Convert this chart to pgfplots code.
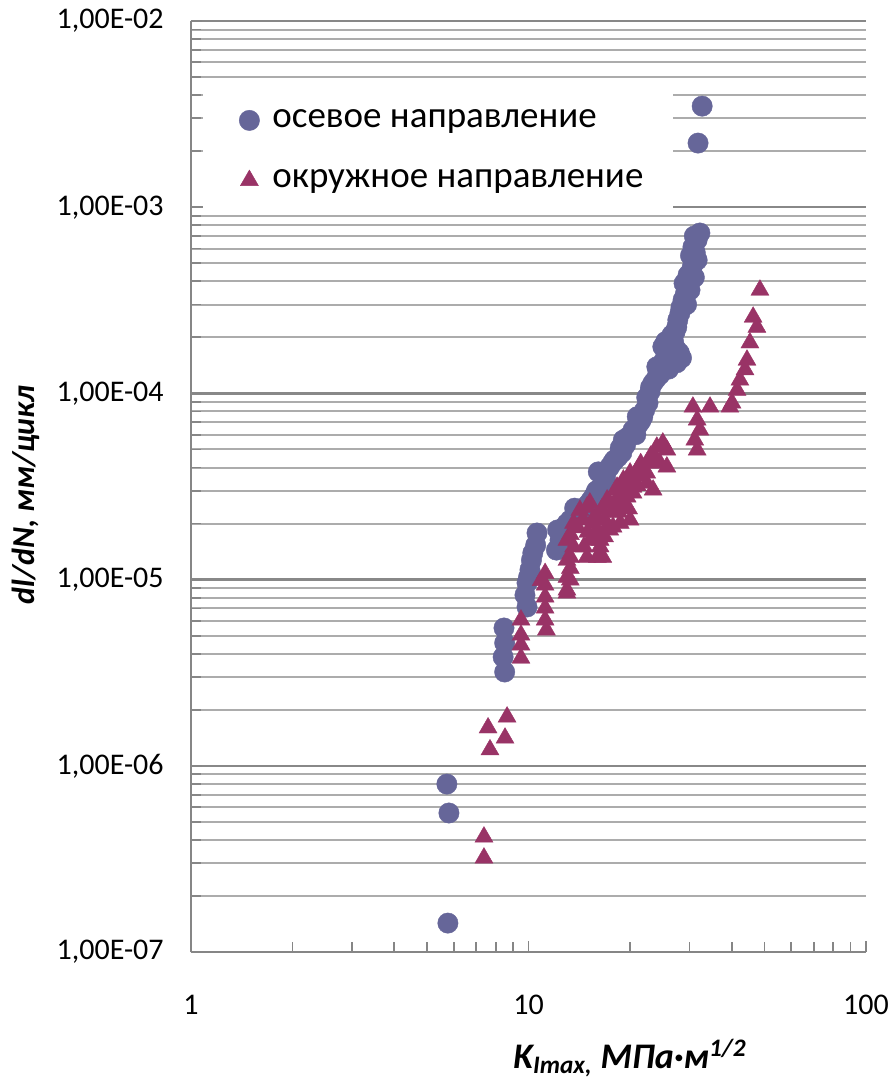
\documentclass[border=0pt]{standalone}
\usepackage{fontspec}
\setmainfont{Carlito}
\usepackage{pgfplots}
\pgfplotsset{compat=1.18}

\definecolor{axisgray}{RGB}{134,134,134}
\definecolor{majgrid}{RGB}{136,136,136}
\definecolor{mingrid}{RGB}{172,172,172}
\definecolor{axial}{RGB}{102,102,153}
\definecolor{hoop}{RGB}{153,51,102}

% legend entries are padded to a fixed width so the white box ends in the same place
\newcommand{\legentry}[1]{\makebox[200.5pt][l]{#1}}

\begin{document}
\begin{tikzpicture}
\begin{axis}[
  scale only axis, width=337.5pt, height=465.5pt,
  xmode=log, ymode=log,
  xmin=1, xmax=100, ymin=1e-7, ymax=1e-2,
  axis x line*=bottom, axis y line*=left,
  axis line style={draw=axisgray, line width=1pt},
  xtick={1,10,100}, xticklabels={1,10,100},
  minor xtick={2,3,4,5,6,7,8,9,20,30,40,50,60,70,80,90},
  ytick={1e-7,1e-6,1e-5,1e-4,1e-3,1e-2},
  yticklabels={{1,00E-07},{1,00E-06},{1,00E-05},{1,00E-04},{1,00E-03},{1,00E-02}},
  minor ytick={2e-7,3e-7,4e-7,5e-7,6e-7,7e-7,8e-7,9e-7,
               2e-6,3e-6,4e-6,5e-6,6e-6,7e-6,8e-6,9e-6,
               2e-5,3e-5,4e-5,5e-5,6e-5,7e-5,8e-5,9e-5,
               2e-4,3e-4,4e-4,5e-4,6e-4,7e-4,8e-4,9e-4,
               2e-3,3e-3,4e-3,5e-3,6e-3,7e-3,8e-3,9e-3},
  ymajorgrids, yminorgrids,
  major grid style={draw=majgrid, line width=1.2pt},
  minor grid style={draw=mingrid, line width=1pt},
  tick align=inside,
  major tick length=5.5pt, minor tick length=5pt,
  tick style={draw=axisgray, line width=0.9pt},
  ticklabel style={font=\fontsize{15}{18}\selectfont},
  xticklabel style={anchor=north, inner sep=0pt, yshift=-21.5pt},
  yticklabel style={anchor=east, inner sep=0pt, xshift=-13.5pt},
  xlabel={\bfseries\itshape K\textsubscript{Imax,} МПа·м\textsuperscript{1/2}},
  xlabel style={at={(axis description cs:0.65037,-0.11386)}, anchor=center,
                font=\fontsize{18}{22}\selectfont},
  ylabel={\bfseries\itshape dl/dN, мм/цикл},
  ylabel style={at={(axis description cs:-0.24444,0.4909)}, anchor=center,
                font=\fontsize{16}{19}\selectfont},
  legend style={at={(rel axis cs:0.017778,0.92589)}, anchor=north west,
                draw=none, fill=white, inner sep=0pt, column sep=0pt, row sep=0pt,
                font=\fontsize{18.5}{22}\selectfont,
                nodes={inner sep=0pt}},
  legend cell align=left,
  legend image code/.code={\path[draw=none, fill=none] (-23pt,-15pt) rectangle (11.5pt,15pt);
                           \draw[#1] plot coordinates {(0pt,0pt)};},
]
\addplot[only marks, mark=*, mark size=5.1pt, color=axial,
         mark options={fill=axial, draw=axial, line width=0.2pt}]
coordinates {
(32.7,3.49e-3) (31.8,2.21e-3)
(32.2,7.27e-4) (31.0,7.0e-4) (31.6,6.67e-4) (30.7,6.11e-4) (31.2,5.7e-4)
(30.2,5.5e-4) (31.6,5.2e-4) (30.5,4.71e-4) (29.7,4.32e-4) (31.0,4.2e-4)
(29.8,4.0e-4) (28.9,3.9e-4) (30.1,3.59e-4) (29.1,3.38e-4) (28.7,3.17e-4)
(29.4,3.0e-4) (28.3,2.9e-4) (28.1,2.70e-4) (27.7,2.48e-4) (27.5,2.27e-4)
(27.2,2.15e-4) (26.6,2.06e-4) (26.9,1.9e-4) (25.5,1.9e-4) (25.0,1.78e-4)
(25.9,1.78e-4) (27.5,1.71e-4) (28.0,1.65e-4) (26.0,1.6e-4) (28.4,1.55e-4)
(27.5,1.46e-4) (26.6,1.51e-4) (25.2,1.5e-4) (24.0,1.39e-4) (26.0,1.35e-4)
(24.2,1.3e-4) (24.5,1.26e-4) (23.9,1.2e-4) (23.4,1.14e-4) (23.0,1.08e-4)
(22.9,1.02e-4) (22.4,9.5e-5) (22.6,8.88e-5) (22.1,8.14e-5) (21.8,7.47e-5)
(21.0,7.5e-5) (21.5,7.1e-5) (21.1,6.77e-5) (20.4,6.36e-5) (20.8,6.0e-5)
(19.7,5.83e-5) (19.1,5.62e-5) (19.4,5.3e-5) (18.7,5.09e-5) (18.9,4.8e-5)
(18.4,4.55e-5) (18.0,4.4e-5) (17.8,4.28e-5) (17.4,4.03e-5) (16.1,3.79e-5)
(17.0,3.8e-5) (16.9,3.51e-5) (16.6,3.3e-5) (16.3,3.1e-5) (15.9,3.0e-5)
(15.7,2.85e-5) (15.4,2.7e-5) (15.2,2.61e-5) (14.9,2.5e-5) (14.7,2.36e-5)
(13.7,2.42e-5) (14.2,2.22e-5) (13.3,2.09e-5) (13.0,2.0e-5) (12.8,1.92e-5)
(12.2,1.85e-5) (12.5,1.75e-5) (12.4,1.63e-5) (12.1,1.44e-5)
(10.6,1.78e-5) (10.5,1.53e-5) (10.3,1.39e-5) (10.2,1.27e-5)
(10.1,1.13e-5) (10.0,1.03e-5) (9.9,9.6e-6) (9.76,8.26e-6) (9.9,7.13e-6)
(8.46,5.5e-6) (8.5,4.57e-6) (8.41,3.84e-6) (8.5,3.19e-6)
(5.73,7.98e-7) (5.81,5.58e-7) (5.77,1.43e-7)
};
\addlegendentry{\legentry{осевое направление}}

\addplot[only marks, mark=triangle*, mark size=5.2pt, color=hoop,
         mark options={fill=hoop, draw=hoop, line width=0.2pt}]
coordinates {
(48.5,3.59e-4) (46.3,2.57e-4) (47.5,2.27e-4) (45.3,1.87e-4) (44.4,1.51e-4)
(43.8,1.34e-4) (42.3,1.18e-4) (41.5,1.04e-4) (40.1,8.88e-5) (39.5,8.45e-5)
(30.7,8.45e-5) (34.5,8.45e-5) (31.6,7.2e-5) (32.2,6.36e-5) (31.1,5.62e-5)
(31.6,4.97e-5)
(24.0,5.15e-5) (25.7,4.97e-5) (24.5,4.23e-5) (25.0,5.42e-5) (25.7,4.03e-5)
(23.0,4.6e-5) (23.8,4.5e-5) (21.5,4.2e-5)
(22.4,3.74e-5) (23.4,3.03e-5) (22.4,3.3e-5) (22.9,4.23e-5)
(21.0,3.88e-5) (20.0,3.74e-5) (20.4,3.14e-5) (19.6,3.43e-5) (19.1,3.43e-5)
(20.6,3.4e-5) (21.4,3.6e-5) (21.0,3.2e-5) (19.3,3.0e-5)
(18.3,3.14e-5) (18.3,3.03e-5) (19.6,2.78e-5) (17.4,2.58e-5) (17.1,2.68e-5)
(18.0,2.6e-5) (18.6,2.8e-5) (19.0,2.5e-5) (19.8,2.4e-5) (18.5,2.3e-5)
(17.6,2.3e-5) (16.5,2.4e-5) (16.8,2.1e-5) (17.0,1.9e-5) (16.8,1.7e-5)
(18.7,2.01e-5) (17.8,1.92e-5) (17.4,1.85e-5) (20.0,2.09e-5) (20.4,2.92e-5)
(15.2,2.58e-5) (14.9,2.45e-5) (14.2,2.36e-5) (15.5,2.09e-5) (15.5,2.01e-5)
(15.9,2.2e-5) (14.5,2.1e-5) (14.0,1.9e-5) (15.0,1.8e-5) (15.6,1.7e-5)
(14.6,1.5e-5)
(16.0,1.85e-5) (15.2,1.63e-5) (16.3,1.63e-5) (16.3,1.5e-5) (16.6,1.32e-5)
(16.0,1.32e-5) (14.9,1.32e-5)
(13.6,2.01e-5) (13.3,1.75e-5) (13.0,1.63e-5) (13.6,1.5e-5) (13.3,1.32e-5)
(13.0,1.27e-5) (13.3,1.15e-5) (13.3,9.95e-6)
(13.0,1.03e-5) (13.0,8.8e-6) (13.0,8.47e-6)
(11.2,1.08e-5) (11.2,9.35e-6) (11.2,8.07e-6) (11.2,7.04e-6) (11.2,6.07e-6)
(11.3,5.37e-6) (10.9,9.9e-6)
(9.5,6.07e-6) (9.5,5.04e-6) (9.5,4.46e-6) (9.5,3.79e-6)
(8.64,1.83e-6) (8.52,1.41e-6) (7.59,1.6e-6) (7.69,1.22e-6)
(7.38,4.15e-7) (7.38,3.2e-7)
};
\addlegendentry{\legentry{окружное направление}}
\end{axis}
\pgfresetboundingbox
\path[use as bounding box] (-95.5pt,-67pt) rectangle (351pt,476pt);
\end{tikzpicture}
\end{document}
